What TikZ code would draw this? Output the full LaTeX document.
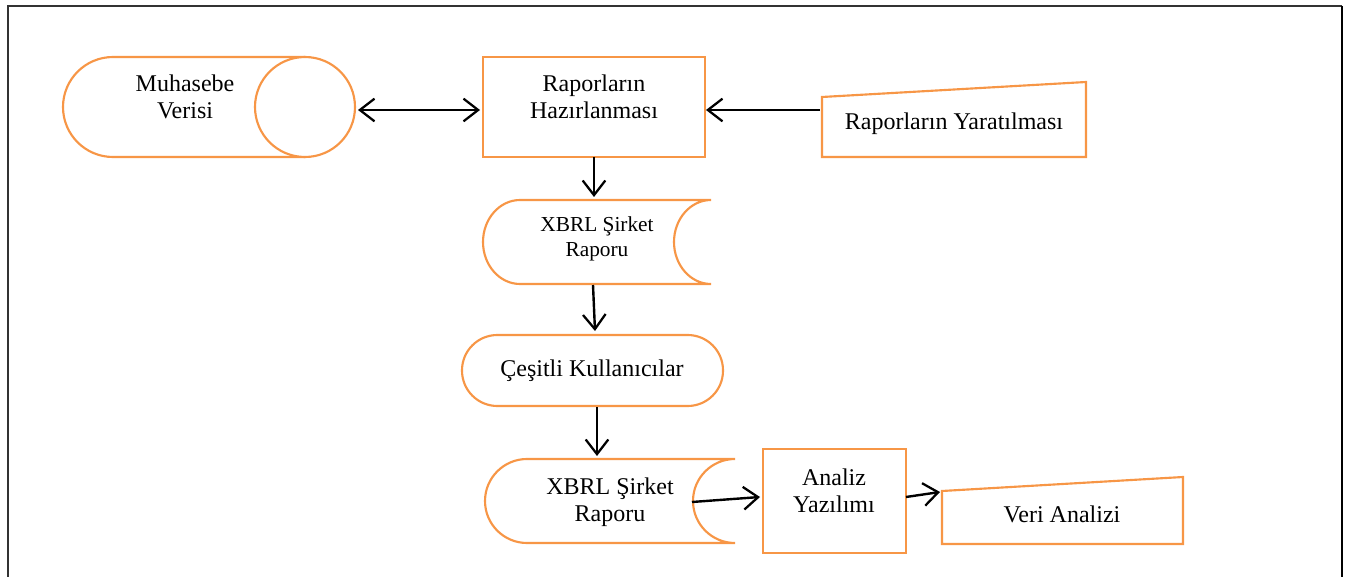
\documentclass[tikz,border=0pt]{standalone}
\usepackage{fontspec}
\setmainfont{Liberation Serif}
\usetikzlibrary{arrows.meta}
\definecolor{orng}{HTML}{F79646}
\definecolor{frm}{HTML}{333333}
\tikzset{
  shp/.style={draw=orng, line width=1.6pt, fill=white},
  txt/.style={align=center, inner sep=0pt, font=\fontsize{18}{20.5}\selectfont},
  smalltxt/.style={align=center, inner sep=0pt, font=\fontsize{16}{18.8}\selectfont},
  tip/.style={Straight Barb[length=11pt,width=17pt,line width=1.7pt]},
  conn/.style={draw=black, line width=1.8pt, -{Straight Barb[length=11pt,width=17pt,line width=1.7pt]}},
  dconn/.style={draw=black, line width=1.8pt, {Straight Barb[length=11pt,width=17pt,line width=1.7pt]}-{Straight Barb[length=11pt,width=17pt,line width=1.7pt]}}
}
\begin{document}
\begin{tikzpicture}[x=0.75pt,y=-0.75pt]
\useasboundingbox (0,0) rectangle (1356,577);
% frame
\draw[frm, line width=1.2pt] (8,577) -- (8,6) -- (1342,6);
\draw[black, line width=1.4pt] (1342,6) -- (1342,577);

% Muhasebe Verisi (direct access storage)
\path[shp] (305,57) -- (113,57) arc[start angle=90, end angle=270, radius=37.5pt] -- (305,157);
\draw[shp] (305,107) circle[radius=37.5pt];
\node[txt] (mv) at (185,97) {Muhasebe\\Verisi};

% Raporlarin Hazirlanmasi
\node[shp, minimum width=166.5pt, minimum height=75pt] (hz) at (594,107) {};
\node[txt] (hzt) at (594,97) {Raporların\\Hazırlanması};

% Raporlarin Yaratilmasi (manual input)
\path[shp] (822,97) -- (1086,82) -- (1086,157) -- (822,157) -- cycle;
\node[txt] (ry) at (954,124) {Raporların Yaratılması};

% XBRL 1 (stored data)
\path[shp] (520,200) -- (711,200) .. controls (690.6,200) and (674,218.8) .. (674,242)
  .. controls (674,265.2) and (690.6,284) .. (711,284) -- (520,284)
  .. controls (499.6,284) and (483,265.2) .. (483,242)
  .. controls (483,218.8) and (499.6,200) .. (520,200) -- cycle;
\node[smalltxt] (x1) at (597,239) {XBRL Şirket\\Raporu};

% Cesitli Kullanicilar
\draw[shp, rounded corners=26.5pt] (462,335) rectangle (723,406);
\node[txt] (ck) at (592,371) {Çeşitli Kullanıcılar};

% XBRL 2
\path[shp] (527,459) -- (735,459) .. controls (711.8,459) and (693,477.8) .. (693,501)
  .. controls (693,524.2) and (711.8,543) .. (735,543) -- (527,543)
  .. controls (503.8,543) and (485,524.2) .. (485,501)
  .. controls (485,477.8) and (503.8,459) .. (527,459) -- cycle;
\node[txt] (x2) at (610,502) {XBRL Şirket\\Raporu};

% Analiz Yazilimi
\node[shp, minimum width=107pt, minimum height=78pt] (az) at (834.5,501) {};
\node[txt] (azt) at (834,491) {Analiz\\Yazılımı};

% Veri Analizi (manual input)
\path[shp] (942,491) -- (1183,477) -- (1183,544) -- (942,544) -- cycle;
\node[txt] (va) at (1062,514) {Veri Analizi};

% connector end points
\coordinate (mvR) at (358,110);
\coordinate (hzL) at (480,110);
\coordinate (ryL) at (820,110);
\coordinate (hzR) at (706,110);
\coordinate (hzB) at (594,157);
\coordinate (x1T) at (594,197);
\coordinate (x1B) at (593,285);
\coordinate (ckT) at (595,331);
\coordinate (ckB) at (597,407);
\coordinate (x2T) at (597,456);
\coordinate (x2R) at (692,502);
\coordinate (azL) at (760,497);
\coordinate (azR) at (906,497);
\coordinate (vaL) at (940,492);

\draw[dconn] (mvR) -- (hzL);
\draw[conn] (ryL) -- (hzR);
\draw[conn] (hzB) -- (x1T);
\draw[conn] (x1B) -- (ckT);
\draw[conn] (ckB) -- (x2T);
\draw[conn] (x2R) -- (azL);
\draw[conn] (azR) -- (vaL);
\end{tikzpicture}
\end{document}
